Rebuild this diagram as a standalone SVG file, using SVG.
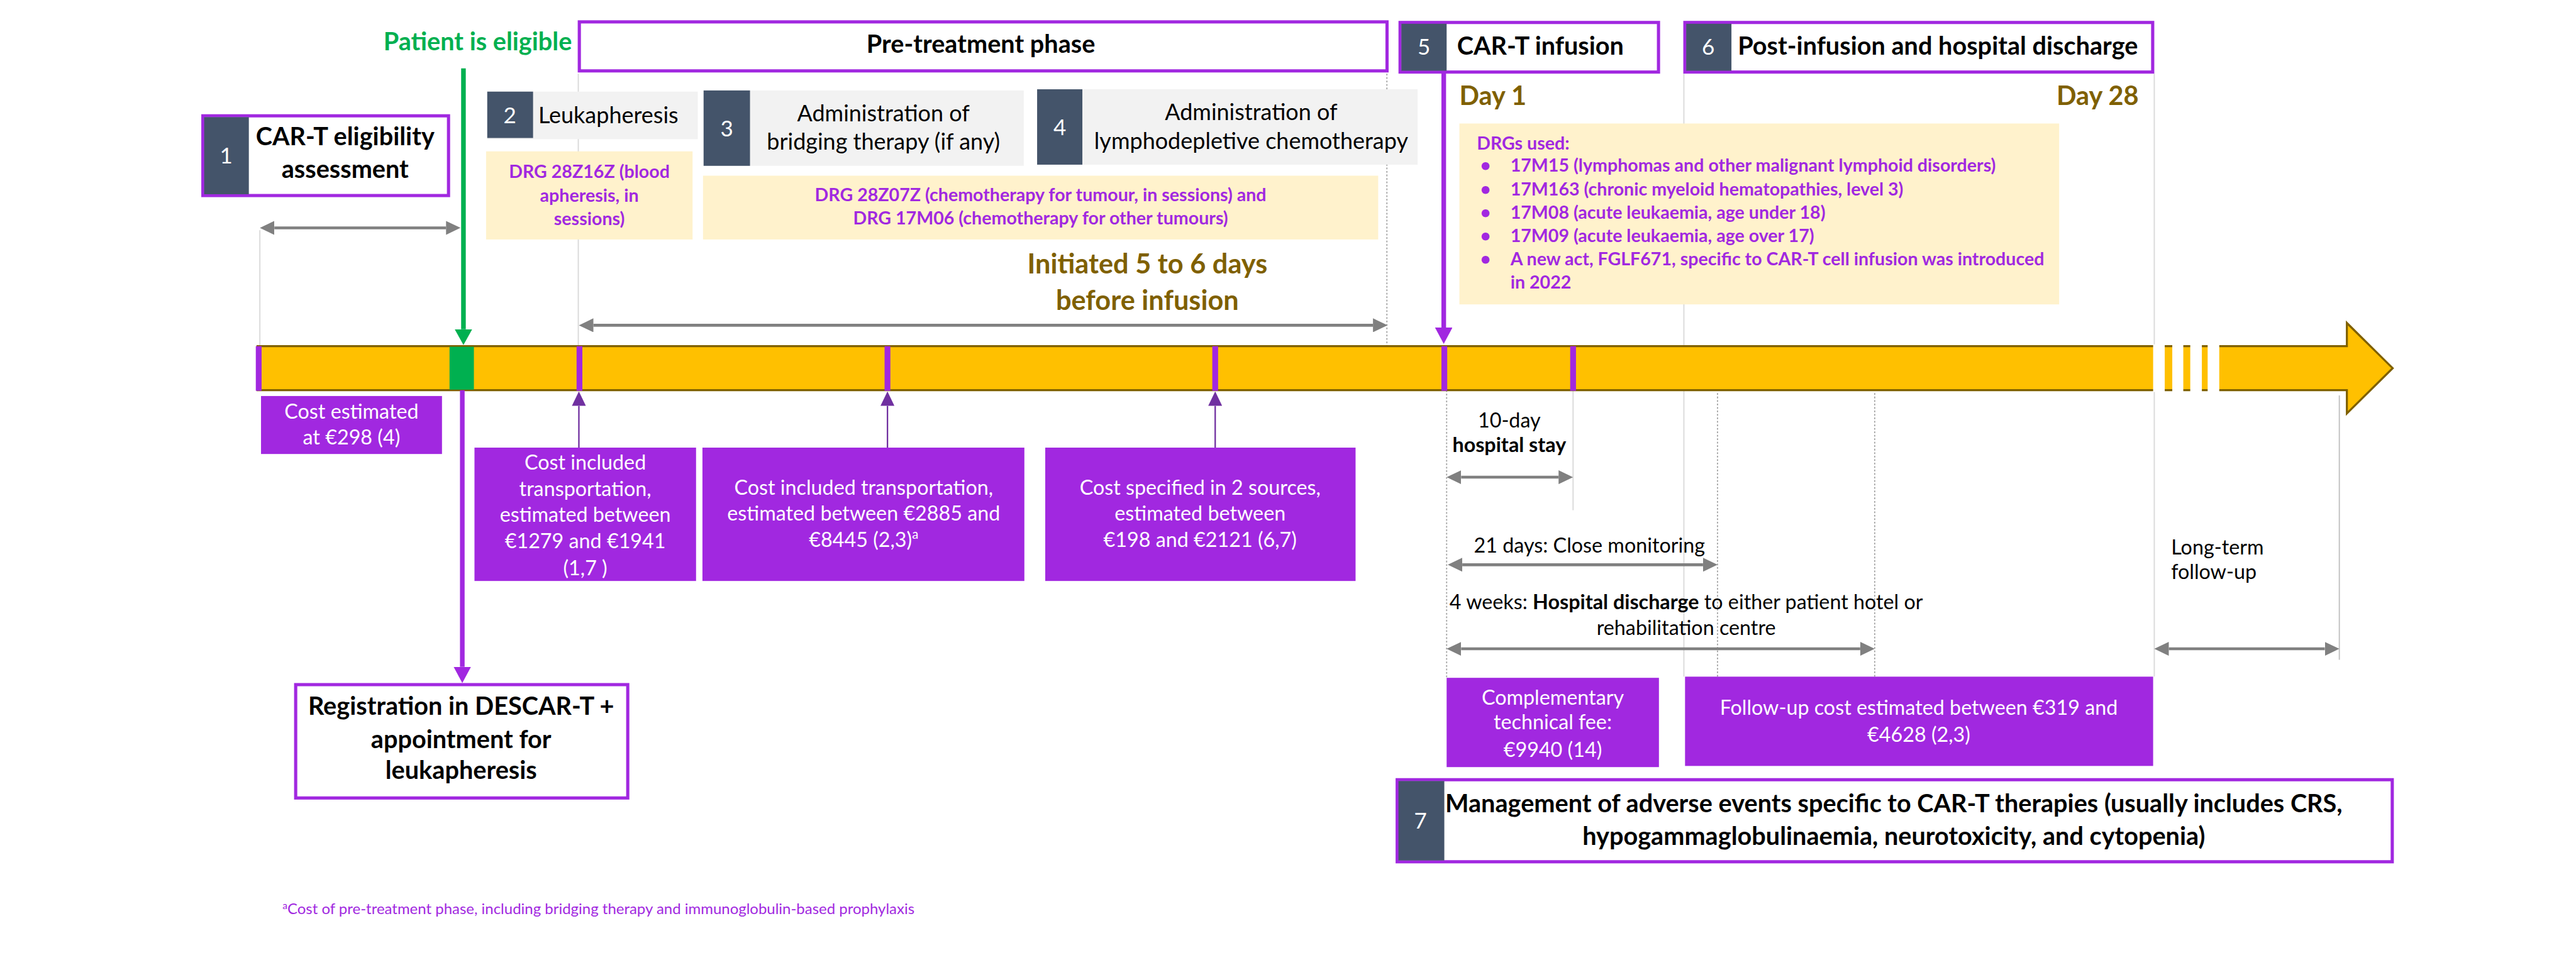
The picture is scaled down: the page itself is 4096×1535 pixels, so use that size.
<svg xmlns="http://www.w3.org/2000/svg" width="4096" height="1535" viewBox="0 0 4096 1535">
<defs>
<style>
text{font-family:Lato,"Liberation Sans",sans-serif}
.m{text-anchor:middle}
.e{text-anchor:end}
.ttl{font-size:43px;font-weight:700;fill:#000}
.grn{font-size:43px;font-weight:700;fill:#00B050}
.stp{font-size:39px;fill:#000}
.num{font-size:38px;fill:#fff;text-anchor:middle}
.drg{font-size:31px;font-weight:700;fill:#A128E0}
.wb{font-size:35px;fill:#fff;text-anchor:middle}
.lbl{font-size:35px;fill:#000}
.day{font-size:45px;font-weight:700;fill:#7F6000}
.init{font-size:47px;font-weight:700;fill:#7F6000;text-anchor:middle}
.fn{font-size:26px;fill:#A128E0}
.frame{fill:#fff;stroke:#A128E0;stroke-width:5.5}
.dark{fill:#44546A}
.grey{fill:#F2F2F2}
.drgbox{fill:#FFF2CC}
.pbox{fill:#A128E0}
.tick{fill:#A128E0}
.guide{stroke:#D9D9D9;stroke-width:2;fill:none}
.guide2{stroke:#BFBFBF;stroke-width:2;fill:none}
.dot{stroke:#A6A6A6;stroke-width:2;stroke-dasharray:3 3;fill:none}
.garrow{stroke:#808080;stroke-width:5;fill:none;marker-start:url(#mg);marker-end:url(#mg)}
.parrow{stroke:#7030A0;stroke-width:2.5;fill:none;marker-end:url(#mp)}
.pthick{stroke:#A128E0;stroke-width:8;fill:none;marker-end:url(#mpk)}
.gthick{stroke:#00B050;stroke-width:8;fill:none;marker-end:url(#mgr)}
</style>
<marker id="mg" viewBox="0 0 25 24" refX="0" refY="12" markerWidth="25" markerHeight="24" markerUnits="userSpaceOnUse" orient="auto-start-reverse"><path d="M0,0 L25,12 L0,24 Z" fill="#808080"/></marker>
<marker id="mp" viewBox="0 0 25 24" refX="0" refY="12" markerWidth="25" markerHeight="24" markerUnits="userSpaceOnUse" orient="auto"><path d="M0,0 L25,12 L0,24 Z" fill="#7030A0"/></marker>
<marker id="mpk" viewBox="0 0 28 30" refX="0" refY="15" markerWidth="28" markerHeight="30" markerUnits="userSpaceOnUse" orient="auto"><path d="M0,0 L28,15 L0,30 Z" fill="#A128E0"/></marker>
<marker id="mgr" viewBox="0 0 27 30" refX="0" refY="15" markerWidth="27" markerHeight="30" markerUnits="userSpaceOnUse" orient="auto"><path d="M0,0 L27,15 L0,30 Z" fill="#00B050"/></marker>
</defs>
<rect width="4096" height="1535" fill="#fff"/>
<g transform="scale(0.92231)">

<g id="guides">
 <line class="guide" x1="448" y1="397" x2="448" y2="597"/>
 <line class="guide" x1="997" y1="127" x2="997" y2="597"/>
 <line class="dot" x1="2391" y1="127" x2="2391" y2="597" stroke="#D0D0D0"/>
 <line class="dot" x1="2494" y1="673" x2="2494" y2="1169"/>
 <line class="guide" x1="2712" y1="673" x2="2712" y2="880"/>
 <line class="guide" x1="2903" y1="127" x2="2903" y2="1167"/>
 <line class="dot" x1="2961" y1="678" x2="2961" y2="1167"/>
 <line class="dot" x1="3232" y1="678" x2="3232" y2="1167"/>
 <line class="guide" x1="3714" y1="127" x2="3714" y2="1167"/>
 <line class="guide2" x1="4033" y1="682" x2="4033" y2="1138"/>
</g>

<g id="timeline">
 <path d="M444,597 H4046 V557 L4125,635 L4046,713 V673 H444 Z" fill="#FFC000" stroke="#7F6000" stroke-width="3.5"/>
 <rect x="3712" y="594" width="20" height="82" fill="#fff"/>
 <rect x="3745" y="594" width="19" height="82" fill="#fff"/>
 <rect x="3776" y="594" width="20" height="82" fill="#fff"/>
 <rect x="3806" y="594" width="20" height="82" fill="#fff"/>
 <rect class="tick" x="441" y="597" width="10" height="77"/>
 <rect x="775" y="598" width="42" height="74" fill="#00B050"/>
 <rect class="tick" x="994" y="597" width="10" height="77"/>
 <rect class="tick" x="1525" y="597" width="10" height="77"/>
 <rect class="tick" x="2090" y="597" width="10" height="77"/>
 <rect class="tick" x="2485" y="597" width="10" height="77"/>
 <rect class="tick" x="2707" y="597" width="10" height="77"/>
</g>

<g id="eligible-label">
 <text class="grn e" x="986" y="87">Patient is eligible</text>
</g>

<g id="pretreatment-phase">
 <rect class="frame" x="998.75" y="37.75" width="1392.5" height="84.5"/>
 <text class="ttl m" x="1691" y="91">Pre-treatment phase</text>
</g>

<g id="step5-infusion">
 <rect class="frame" x="2413.75" y="38.75" width="445.5" height="85.5"/>
 <rect class="dark" x="2416" y="41" width="78" height="81"/>
 <text class="num" x="2455" y="94">5</text>
 <text class="ttl" x="2512" y="94">CAR-T infusion</text>
</g>

<g id="step6-post-infusion">
 <rect class="frame" x="2904.75" y="38.75" width="806.5" height="85.5"/>
 <rect class="dark" x="2907" y="41" width="78" height="81"/>
 <text class="num" x="2945" y="94">6</text>
 <text class="ttl" x="2996" y="94">Post-infusion and hospital discharge</text>
</g>

<g id="step1-eligibility">
 <rect class="frame" x="349.75" y="199.75" width="423.5" height="137.5"/>
 <rect class="dark" x="352" y="202" width="77" height="133"/>
 <text class="num" x="390" y="282">1</text>
 <text class="ttl m" x="595" y="250">CAR-T eligibility</text>
 <text class="ttl m" x="595" y="307">assessment</text>
</g>

<g id="step2-leukapheresis">
 <rect class="grey" x="840" y="158" width="363" height="82"/>
 <rect class="dark" x="840" y="158" width="79" height="80"/>
 <text class="num" x="879" y="213">2</text>
 <text class="stp" x="928" y="213">Leukapheresis</text>
</g>

<g id="step3-bridging">
 <rect class="grey" x="1213" y="156" width="552" height="130"/>
 <rect class="dark" x="1213" y="156" width="80" height="130"/>
 <text class="num" x="1253" y="235">3</text>
 <text class="stp m" x="1523" y="209">Administration of</text>
 <text class="stp m" x="1523" y="258">bridging therapy (if any)</text>
</g>

<g id="step4-lymphodepletion">
 <rect class="grey" x="1788" y="154" width="656" height="130"/>
 <rect class="dark" x="1788" y="154" width="78" height="130"/>
 <text class="num" x="1827" y="233">4</text>
 <text class="stp m" x="2157" y="207">Administration of</text>
 <text class="stp m" x="2157" y="257">lymphodepletive chemotherapy</text>
</g>

<g id="drg-leukapheresis">
 <rect class="drgbox" x="838" y="261" width="356" height="152"/>
 <text class="drg m" x="1016" y="307">DRG 28Z16Z (blood</text>
 <text class="drg m" x="1016" y="348">apheresis, in</text>
 <text class="drg m" x="1016" y="388">sessions)</text>
</g>

<g id="drg-chemotherapy">
 <rect class="drgbox" x="1212" y="303" width="1164" height="110"/>
 <text class="drg m" x="1794" y="347">DRG 28Z07Z (chemotherapy for tumour, in sessions) and</text>
 <text class="drg m" x="1794" y="387">DRG 17M06 (chemotherapy for other tumours)</text>
</g>

<g id="initiated-label">
 <text class="init" x="1978" y="472">Initiated 5 to 6 days</text>
 <text class="init" x="1978" y="535">before infusion</text>
</g>

<g id="day-labels">
 <text class="day" x="2516" y="181">Day 1</text>
 <text class="day e" x="3687" y="181">Day 28</text>
</g>

<g id="drg-infusion">
 <rect class="drgbox" x="2516" y="213" width="1034" height="312"/>
 <text class="drg" x="2546" y="258">DRGs used:</text>
 <text class="drg" x="2552" y="296">•</text>
 <text class="drg" x="2604" y="296">17M15 (lymphomas and other malignant lymphoid disorders)</text>
 <text class="drg" x="2552" y="337">•</text>
 <text class="drg" x="2604" y="337">17M163 (chronic myeloid hematopathies, level 3)</text>
 <text class="drg" x="2552" y="377">•</text>
 <text class="drg" x="2604" y="377">17M08 (acute leukaemia, age under 18)</text>
 <text class="drg" x="2552" y="417">•</text>
 <text class="drg" x="2604" y="417">17M09 (acute leukaemia, age over 17)</text>
 <text class="drg" x="2552" y="458">•</text>
 <text class="drg" x="2604" y="458">A new act, FGLF671, specific to CAR-T cell infusion was introduced</text>
 <text class="drg" x="2604" y="498">in 2022</text>
</g>

<g id="cost-eligibility">
 <rect class="pbox" x="450" y="683" width="312" height="100"/>
 <text class="wb" x="606" y="722">Cost estimated</text>
 <text class="wb" x="606" y="767">at €298 (4)</text>
</g>

<g id="cost-leukapheresis">
 <rect class="pbox" x="818" y="772" width="382" height="230"/>
 <text class="wb" x="1009" y="810">Cost included</text>
 <text class="wb" x="1009" y="855">transportation,</text>
 <text class="wb" x="1009" y="900">estimated between</text>
 <text class="wb" x="1009" y="945">€1279 and €1941</text>
 <text class="wb" x="1009" y="992">(1,7 )</text>
</g>

<g id="cost-bridging">
 <rect class="pbox" x="1211" y="772" width="555" height="230"/>
 <text class="wb" x="1489" y="853">Cost included transportation,</text>
 <text class="wb" x="1489" y="898">estimated between €2885 and</text>
 <text class="wb" x="1489" y="943">€8445 (2,3)<tspan font-size="22" dy="-14">a</tspan></text>
</g>

<g id="cost-lymphodepletion">
 <rect class="pbox" x="1802" y="772" width="535" height="230"/>
 <text class="wb" x="2069" y="853">Cost specified in 2 sources,</text>
 <text class="wb" x="2069" y="898">estimated between</text>
 <text class="wb" x="2069" y="943">€198 and €2121 (6,7)</text>
</g>

<g id="registration">
 <rect class="frame" x="509.75" y="1180.75" width="572.5" height="195.5"/>
 <text class="ttl m" x="795" y="1233">Registration in DESCAR-T +</text>
 <text class="ttl m" x="795" y="1290">appointment for</text>
 <text class="ttl m" x="795" y="1343">leukapheresis</text>
</g>

<g id="duration-labels">
 <text class="lbl m" x="2602" y="737">10-day</text>
 <text class="lbl m" x="2602" y="780" font-weight="700">hospital stay</text>
 <text class="lbl" x="2541" y="953">21 days: Close monitoring</text>
 <text class="lbl m" x="2907" y="1051">4 weeks: <tspan font-weight="700">Hospital discharge</tspan> to either patient hotel or</text>
 <text class="lbl m" x="2907" y="1095">rehabilitation centre</text>
 <text class="lbl" x="3743" y="956">Long-term</text>
 <text class="lbl" x="3743" y="999">follow-up</text>
</g>

<g id="cost-complementary">
 <rect class="pbox" x="2494" y="1169" width="366" height="154"/>
 <text class="wb" x="2677" y="1215">Complementary</text>
 <text class="wb" x="2677" y="1258">technical fee:</text>
 <text class="wb" x="2677" y="1305">€9940 (14)</text>
</g>

<g id="cost-follow-up">
 <rect class="pbox" x="2905" y="1167" width="807" height="154"/>
 <text class="wb" x="3308" y="1233">Follow-up cost estimated between €319 and</text>
 <text class="wb" x="3308" y="1279">€4628 (2,3)</text>
</g>

<g id="step7-adverse-events">
 <rect class="frame" x="2408.75" y="1344.75" width="1715.5" height="141.5"/>
 <rect class="dark" x="2411" y="1347" width="79" height="137"/>
 <text class="num" x="2449" y="1429">7</text>
 <text class="ttl m" x="3265" y="1401">Management of adverse events specific to CAR-T therapies (usually includes CRS,</text>
 <text class="ttl m" x="3265" y="1457">hypogammaglobulinaemia, neurotoxicity, and cytopenia)</text>
</g>

<g id="footnote">
 <text class="fn" x="487" y="1577"><tspan font-size="17" dy="-9">a</tspan><tspan dy="9">Cost of pre-treatment phase, including bridging therapy and immunoglobulin-based prophylaxis</tspan></text>
</g>

<g id="connectors">
 <line class="garrow" x1="473" y1="393" x2="769" y2="393"/>
 <line class="garrow" x1="1023" y1="561" x2="2367" y2="561"/>
 <line class="garrow" x1="2519" y1="823" x2="2687" y2="823"/>
 <line class="garrow" x1="2521" y1="974" x2="2936" y2="974"/>
 <line class="garrow" x1="2519" y1="1119" x2="3207" y2="1119"/>
 <line class="garrow" x1="3739" y1="1119" x2="4008" y2="1119"/>
 <line class="gthick" x1="799" y1="118" x2="799" y2="568"/>
 <line class="pthick" x1="2489" y1="124" x2="2489" y2="565"/>
 <line class="pthick" x1="797" y1="673" x2="797" y2="1150"/>
 <line class="parrow" x1="998" y1="772" x2="998" y2="700"/>
 <line class="parrow" x1="1530" y1="772" x2="1530" y2="700"/>
 <line class="parrow" x1="2095" y1="772" x2="2095" y2="700"/>
</g>

</g>
</svg>
